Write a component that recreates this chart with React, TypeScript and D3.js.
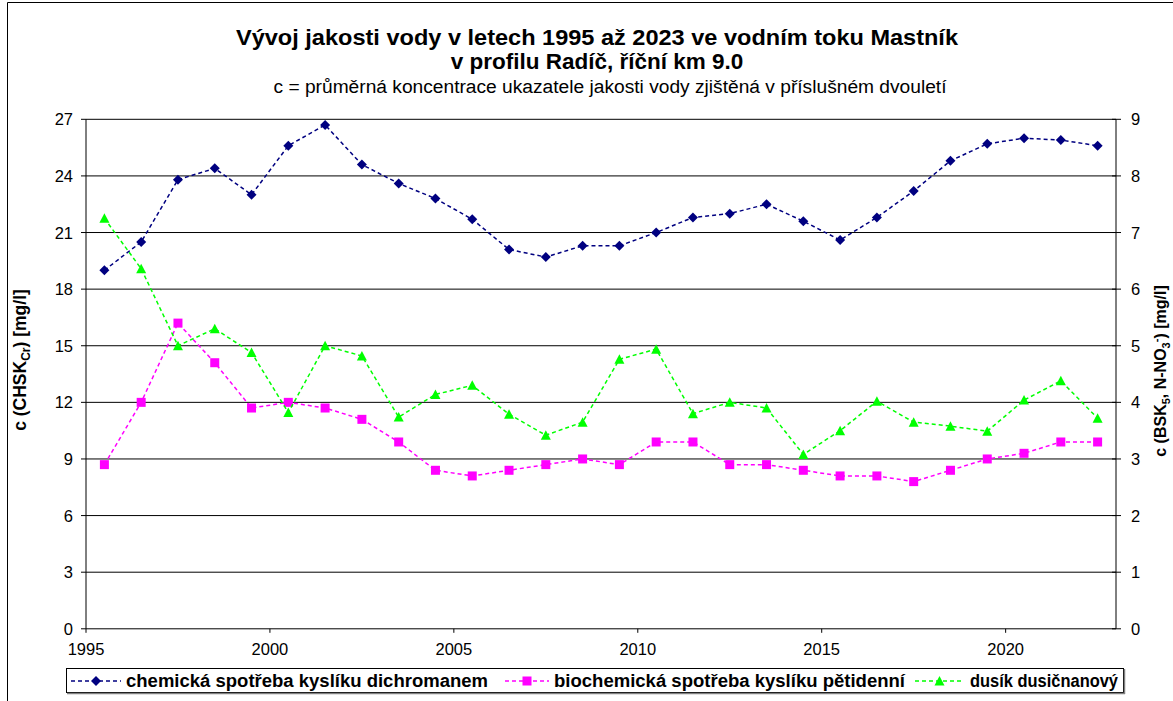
import React from "react";
import * as d3 from "d3";

const years: number[] = [
  1995.5, 1996.5, 1997.5, 1998.5, 1999.5, 2000.5, 2001.5, 2002.5, 2003.5, 2004.5,
  2005.5, 2006.5, 2007.5, 2008.5, 2009.5, 2010.5, 2011.5, 2012.5, 2013.5, 2014.5,
  2015.5, 2016.5, 2017.5, 2018.5, 2019.5, 2020.5, 2021.5, 2022.5,
];
const chsk: number[] = [
  19.0, 20.5, 23.8, 24.4, 23.0, 25.6, 26.7, 24.6, 23.6, 22.8,
  21.7, 20.1, 19.7, 20.3, 20.3, 21.0, 21.8, 22.0, 22.5, 21.6,
  20.6, 21.8, 23.2, 24.8, 25.7, 26.0, 25.9, 25.6,
];
const bsk: number[] = [
  2.9, 4.0, 5.4, 4.7, 3.9, 4.0, 3.9, 3.7, 3.3, 2.8,
  2.7, 2.8, 2.9, 3.0, 2.9, 3.3, 3.3, 2.9, 2.9, 2.8,
  2.7, 2.7, 2.6, 2.8, 3.0, 3.1, 3.3, 3.3,
];
const no3: number[] = [
  7.25, 6.36, 5.0, 5.3, 4.88, 3.82, 5.0, 4.82, 3.74, 4.14,
  4.3, 3.79, 3.42, 3.65, 4.76, 4.94, 3.8, 4.0, 3.9, 3.08,
  3.5, 4.02, 3.65, 3.58, 3.49, 4.04, 4.38, 3.72,
];
const xTicks: number[] = [1995, 2000, 2005, 2010, 2015, 2020];
const leftTicks: number[] = [0, 3, 6, 9, 12, 15, 18, 21, 24, 27];
const rightTicks: number[] = [0, 1, 2, 3, 4, 5, 6, 7, 8, 9];
const seriesNames: string[] = [
  "chemická spotřeba kyslíku dichromanem",
  "biochemická spotřeba kyslíku pětidenní",
  "dusík dusičnanový",
];
const titleLine1 = "Vývoj jakosti vody v letech 1995 až 2023 ve vodním toku Mastník";
const titleLine2 = "v profilu Radíč, říční km 9.0";
const subtitle = "c = průměrná koncentrace ukazatele jakosti vody zjištěná v příslušném dvouletí";

const W = 1173;
const H = 701;
const L = 86;
const R = 1116;
const T = 119.3;
const B = 628.8;
const FONT = "'Liberation Sans', Arial, sans-serif";

const x = d3.scaleLinear().domain([1995, 2023]).range([L, R]);
const yL = d3.scaleLinear().domain([0, 27]).range([B, T]);
const yR = d3.scaleLinear().domain([0, 9]).range([B, T]);

function Marker({ type, cx, cy, color }: { type: string; cx: number; cy: number; color: string }) {
  if (type === "diamond") {
    const s = 5;
    return <path d={`M${cx},${cy - s}L${cx + s},${cy}L${cx},${cy + s}L${cx - s},${cy}Z`} fill={color} />;
  }
  if (type === "square") {
    const s = 4.5;
    return <rect x={cx - s} y={cy - s} width={2 * s} height={2 * s} fill={color} />;
  }
  const s = 5;
  return <path d={`M${cx},${cy - s}L${cx + s},${cy + s - 0.5}L${cx - s},${cy + s - 0.5}Z`} fill={color} />;
}

export default function App() {
  const series = [
    { name: seriesNames[0], values: chsk, scale: yL, color: "#000080", marker: "diamond" },
    { name: seriesNames[1], values: bsk, scale: yR, color: "#FF00FF", marker: "square" },
    { name: seriesNames[2], values: no3, scale: yR, color: "#00FF00", marker: "triangle" },
  ];
  const legendPos = [
    { lx0: 71, lx1: 121, tx: 126, len: 362 },
    { lx0: 505, lx1: 549, tx: 554, len: 351 },
    { lx0: 915, lx1: 964, tx: 970, len: 148 },
  ];
  const legendY = 681;
  return (
    <svg
      width={W}
      height={H}
      style={{ position: "absolute", left: 0, top: 0, background: "#fff" }}
      fontFamily={FONT}
    >
      <rect x={0} y={0} width={W} height={H} fill="#fff" />
      {/* outer frame */}
      <line x1={7.5} y1={2.5} x2={W} y2={2.5} stroke="#000" strokeWidth={1} />
      <line x1={7.5} y1={2.5} x2={7.5} y2={H} stroke="#000" strokeWidth={1} />

      {/* titles */}
      <text x={597} y={45} textAnchor="middle" fontSize={22.5} fontWeight="bold" textLength={722} lengthAdjust="spacingAndGlyphs">{titleLine1}</text>
      <text x={597} y={69} textAnchor="middle" fontSize={22.5} fontWeight="bold">{titleLine2}</text>
      <text x={610} y={93} textAnchor="middle" fontSize={18} textLength={673} lengthAdjust="spacingAndGlyphs">{subtitle}</text>

      {/* gridlines */}
      {leftTicks.filter((t) => t > 0).map((t) => (
        <line key={"g" + t} x1={L} x2={R} y1={yL(t)} y2={yL(t)} stroke="#000" strokeWidth={1} />
      ))}

      {/* axes */}
      <line x1={L} x2={L} y1={T} y2={B} stroke="#000" />
      <line x1={R} x2={R} y1={T} y2={B} stroke="#000" />
      <line x1={L} x2={R} y1={B} y2={B} stroke="#000" />

      {/* left ticks */}
      {leftTicks.map((t) => (
        <g key={"lt" + t}>
          <line x1={L - 5} x2={L} y1={yL(t)} y2={yL(t)} stroke="#000" />
          <text x={73} y={yL(t) + 6} textAnchor="end" fontSize={16.5}>{t}</text>
        </g>
      ))}
      {/* right ticks */}
      {rightTicks.map((t) => (
        <g key={"rt" + t}>
          <line x1={R - 4} x2={R + 5} y1={yR(t)} y2={yR(t)} stroke="#000" />
          <text x={1131} y={yR(t) + 6} textAnchor="start" fontSize={16.5}>{t}</text>
        </g>
      ))}
      {/* x ticks */}
      {xTicks.map((t) => (
        <g key={"xt" + t}>
          <line x1={x(t)} x2={x(t)} y1={B} y2={B + 4} stroke="#000" />
          <text x={x(t)} y={655} textAnchor="middle" fontSize={16.5}>{t}</text>
        </g>
      ))}

      {/* axis titles */}
      <text transform={`translate(26,360) rotate(-90)`} textAnchor="middle" fontSize={17.5} fontWeight="bold">
        c (CHSK<tspan dy={4} fontSize={12}>Cr</tspan><tspan dy={-4}>) [mg/l]</tspan>
      </text>
      <text transform={`translate(1166,371) rotate(-90)`} textAnchor="middle" fontSize={16} fontWeight="bold">
        c (BSK<tspan dy={4} fontSize={11}>5</tspan><tspan dy={-4}>, N-NO</tspan><tspan dy={4} fontSize={11}>3</tspan><tspan dy={-10} fontSize={11}>-</tspan><tspan dy={6}>) [mg/l]</tspan>
      </text>

      {/* series */}
      {series.map((s) => {
        const line = d3
          .line<number>()
          .x((_, i) => x(years[i]))
          .y((v) => s.scale(v));
        return (
          <g key={s.name}>
            <path d={line(s.values) || ""} fill="none" stroke={s.color} strokeWidth={1.5} strokeDasharray="4,3" />
            {s.values.map((v, i) => (
              <Marker key={i} type={s.marker} cx={x(years[i])} cy={s.scale(v)} color={s.color} />
            ))}
          </g>
        );
      })}

      {/* legend */}
      <rect x={66.5} y={668.5} width={1057} height={24} fill="#fff" stroke="#000" />
      <line x1={67} y1={693.5} x2={1125} y2={693.5} stroke="#808080" strokeWidth={1.5} />
      <line x1={1124.5} y1={669} x2={1124.5} y2={694} stroke="#808080" strokeWidth={1.5} />
      {series.map((s, i) => {
        const p = legendPos[i];
        return (
          <g key={"lg" + i}>
            <line x1={p.lx0} x2={p.lx1} y1={legendY} y2={legendY} stroke={s.color} strokeWidth={1.5} strokeDasharray="4,3" />
            <Marker type={s.marker} cx={(p.lx0 + p.lx1) / 2} cy={legendY} color={s.color} />
            <text x={p.tx} y={legendY + 6} fontSize={17.5} fontWeight="bold" textLength={p.len} lengthAdjust="spacingAndGlyphs">{s.name}</text>
          </g>
        );
      })}
    </svg>
  );
}
